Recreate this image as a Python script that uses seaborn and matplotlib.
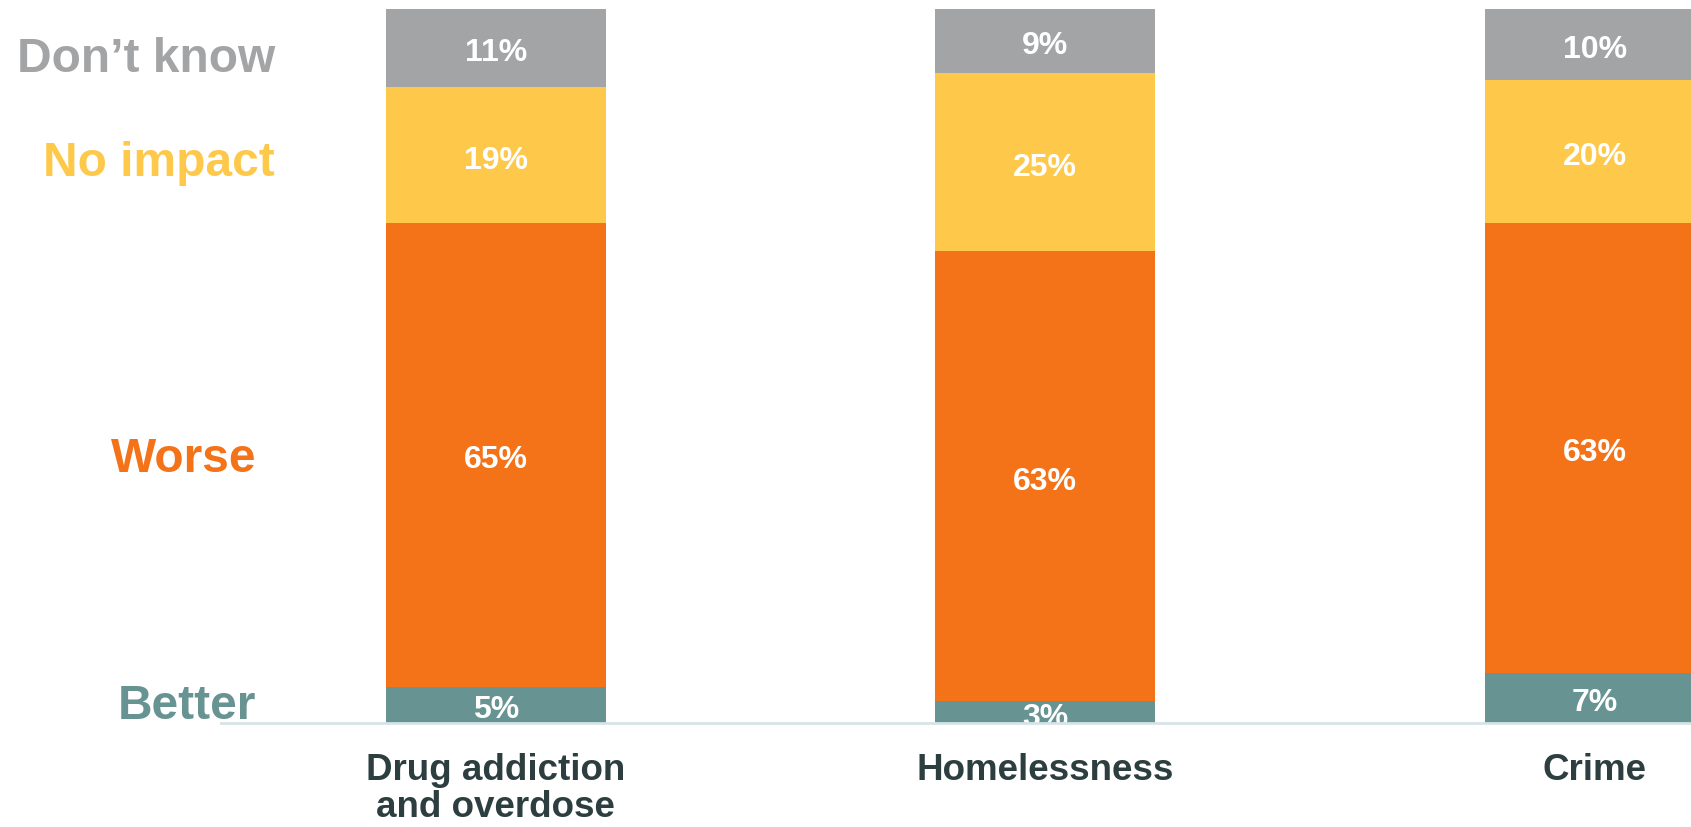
import numpy as np
import pandas as pd
import matplotlib
matplotlib.use("Agg")
import matplotlib.pyplot as plt
import matplotlib.transforms as mtransforms
import seaborn as sns

# ---- data ----
categories = ["Drug addiction\nand overdose", "Homelessness", "Crime"]
better = [5, 3, 7]
worse = [65, 63, 63]
no_impact = [19, 25, 20]
dont_know = [11, 9, 10]
series_names = ["Better", "Worse", "No impact", "Don\u2019t know"]

colors = {
    "Better": "#679392",
    "Worse": "#F47218",
    "No impact": "#FEC84B",
    "Don\u2019t know": "#A3A4A6",
}
text_dark = "#2D3E40"

sns.set_theme(style="white")
plt.rcParams["font.family"] = ["Liberation Sans", "DejaVu Sans"]

W, H = 1691, 827
fig = plt.figure(figsize=(W / 100, H / 100), dpi=100)
ax = fig.add_axes([221 / W, (H - 722.7) / H, 1 - 221 / W, (722.7 - 8.6) / H])

series = [better, worse, no_impact, dont_know]
cum = np.cumsum(np.array(series, dtype=float), axis=0)  # cumulative tops

# draw from tallest (top) to shortest so that each layer shows its segment
for i in range(len(series) - 1, -1, -1):
    df = pd.DataFrame({"cat": categories, "val": cum[i]})
    sns.barplot(data=df, x="cat", y="val", color=colors[series_names[i]],
                width=0.4, linewidth=0, saturation=1, ax=ax, errorbar=None)

ax.set_xlim(-0.5, 2.175)
ax.set_ylim(0, 100)
ax.set_xlabel("")
ax.set_ylabel("")
ax.set_yticks([])
for s in ["left", "right", "top"]:
    ax.spines[s].set_visible(False)
ax.spines["bottom"].set_color("#D6E3E8")
ax.spines["bottom"].set_linewidth(2)
ax.spines["bottom"].set_zorder(5)
ax.tick_params(axis="x", length=0, pad=22)
ax.set_xticks(range(len(categories)))
ax.set_xticklabels(categories, fontsize=26.5, fontweight="bold", color=text_dark,
                   linespacing=1.05)

# segment value labels
pct_size = 23
pct_off = mtransforms.offset_copy(ax.transData, fig=fig, y=-0.716 * pct_size / 2 - 1.5,
                                  units="points")
for i, vals in enumerate(series):
    bottoms = cum[i] - np.array(vals)
    for j, v in enumerate(vals):
        mid = bottoms[j] + v / 2
        ax.text(j, mid, f"{v}%", ha="center", va="baseline", color="white",
                fontsize=pct_size, fontweight="bold", transform=pct_off,
                clip_on=True, zorder=4)

# left-side series labels aligned with first bar's segments
lab_size = 34.5
blend = mtransforms.blended_transform_factory(fig.transFigure, ax.transData)
label_x = [256 / W, 256 / W, 275 / W, 275 / W]
label_dy = [2, 0, -3, -5]  # small visual nudges in points
for i, name in enumerate(series_names):
    bottom = cum[i][0] - series[i][0]
    mid = bottom + series[i][0] / 2
    tr = mtransforms.offset_copy(blend, fig=fig, y=-0.716 * lab_size / 2 + label_dy[i],
                                 units="points")
    ax.text(label_x[i], mid, name, ha="right", va="baseline", color=colors[name],
            fontsize=lab_size, fontweight="bold", transform=tr, clip_on=False)

fig.savefig("out.png", dpi=100, facecolor="white")
